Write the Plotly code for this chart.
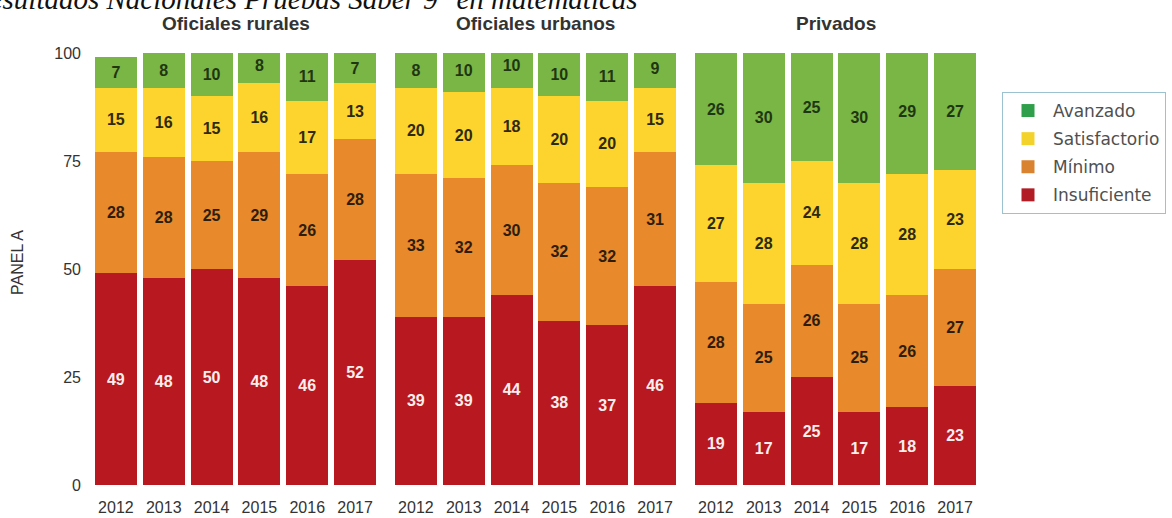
import plotly.graph_objects as go

W, H = 1172, 518

years = ["2012", "2013", "2014", "2015", "2016", "2017"]
panels = ["Oficiales rurales", "Oficiales urbanos", "Privados"]
levels = ["Insuficiente", "Mínimo", "Satisfactorio", "Avanzado"]

# Percentages of students per performance level (bottom to top of each stack)
rurales_insuficiente = [49, 48, 50, 48, 46, 52]
rurales_minimo = [28, 28, 25, 29, 26, 28]
rurales_satisfactorio = [15, 16, 15, 16, 17, 13]
rurales_avanzado = [7, 8, 10, 8, 11, 7]

urbanos_insuficiente = [39, 39, 44, 38, 37, 46]
urbanos_minimo = [33, 32, 30, 32, 32, 31]
urbanos_satisfactorio = [20, 20, 18, 20, 20, 15]
urbanos_avanzado = [8, 10, 10, 10, 11, 9]

privados_insuficiente = [19, 17, 25, 17, 18, 23]
privados_minimo = [28, 25, 26, 25, 26, 27]
privados_satisfactorio = [27, 28, 24, 28, 28, 23]
privados_avanzado = [26, 30, 25, 30, 29, 27]

y_ticks = [0, 25, 50, 75, 100]

panel_data = [
    [rurales_insuficiente, rurales_minimo, rurales_satisfactorio, rurales_avanzado],
    [urbanos_insuficiente, urbanos_minimo, urbanos_satisfactorio, urbanos_avanzado],
    [privados_insuficiente, privados_minimo, privados_satisfactorio, privados_avanzado],
]

bar_colors = {"Insuficiente": "#b8181f", "Mínimo": "#e8892c",
              "Satisfactorio": "#fdd42e", "Avanzado": "#7ab645"}
legend_colors = {"Insuficiente": "#b11c25", "Mínimo": "#d9822f",
                 "Satisfactorio": "#f4d22c", "Avanzado": "#2f9f4b"}
label_colors = {"Insuficiente": "#fbeeee", "Mínimo": "#2e1d0c",
                "Satisfactorio": "#2e2a10", "Avanzado": "#1f3612"}

SANS = "Liberation Sans, Arial"

fig = go.Figure()

for p, series in enumerate(panel_data):
    ax = "" if p == 0 else str(p + 1)
    for lvl, vals in zip(levels, series):
        fig.add_trace(go.Bar(
            x=years, y=vals, name=lvl,
            marker=dict(color=bar_colors[lvl], line=dict(width=0)),
            text=[str(v) for v in vals],
            textposition="inside", insidetextanchor="middle", textangle=0,
            textfont=dict(family=SANS, size=16, color=label_colors[lvl],
                          weight="bold"),
            xaxis="x" + ax, yaxis="y" + ax,
            showlegend=False, hoverinfo="skip",
        ))

# Legend entries, top to bottom
for lvl in reversed(levels):
    fig.add_trace(go.Scatter(
        x=[None], y=[None], mode="markers", name=lvl,
        marker=dict(symbol="square", size=13, color=legend_colors[lvl]),
        legendgroup=lvl, showlegend=True,
    ))

domains = [(92, 379), (392, 679), (692, 979)]
y_dom = [(H - 485) / H, (H - 53) / H]

layout = dict(
    width=W, height=H,
    margin=dict(l=0, r=0, t=0, b=0),
    paper_bgcolor="white", plot_bgcolor="white",
    barmode="stack", bargap=0.12,
    uniformtext=dict(minsize=8, mode="show"),
    legend=dict(
        x=1002 / W, y=1 - 92 / H, xanchor="left", yanchor="top",
        bordercolor="#9cc2d0", borderwidth=1, bgcolor="white",
        font=dict(family="DejaVu Sans", size=17, color="#505050"),
        tracegroupgap=3, traceorder="grouped", itemwidth=40,
    ),
)

for p, (x0, x1) in enumerate(domains):
    sfx = "" if p == 0 else str(p + 1)
    layout["xaxis" + sfx] = dict(
        domain=[x0 / W, x1 / W], anchor="y" + sfx,
        showgrid=False, showline=False, zeroline=False, ticks="",
        tickfont=dict(family=SANS, size=16, color="#333333"),
        ticklabelstandoff=11, automargin=False, fixedrange=True,
    )
    layout["yaxis" + sfx] = dict(
        domain=y_dom, anchor="x" + sfx, range=[0, 100],
        tickvals=y_ticks, showticklabels=(p == 0),
        showgrid=False, showline=False, zeroline=False, ticks="",
        tickfont=dict(family=SANS, size=16, color="#333333"),
        ticklabelstandoff=10, automargin=False, fixedrange=True,
    )

annotations = []
for p, (x0, x1) in enumerate(domains):
    annotations.append(dict(
        text="<b>%s</b>" % panels[p], xref="paper", yref="paper",
        x=(x0 + x1) / 2 / W, y=1 - 23 / H, xanchor="center", yanchor="middle",
        showarrow=False,
        font=dict(family=SANS, size=19, color="#333333"),
    ))
annotations.append(dict(
    text="PANEL A", xref="paper", yref="paper", x=17 / W, y=1 - 263 / H,
    xanchor="center", yanchor="middle", textangle=-90, showarrow=False,
    font=dict(family=SANS, size=16, color="#333333"),
))
annotations.append(dict(
    text="Resultados Nacionales Pruebas Saber 9° en matemáticas",
    xref="paper", yref="paper", x=-31 / W, y=1.0,
    xanchor="left", yanchor="middle", yshift=1, showarrow=False,
    font=dict(family="Liberation Serif, Times New Roman", size=29,
              color="#111111", style="italic"),
))
layout["annotations"] = annotations

fig.update_layout(**layout)
fig.write_html("out.html", config={"displayModeBar": False})
